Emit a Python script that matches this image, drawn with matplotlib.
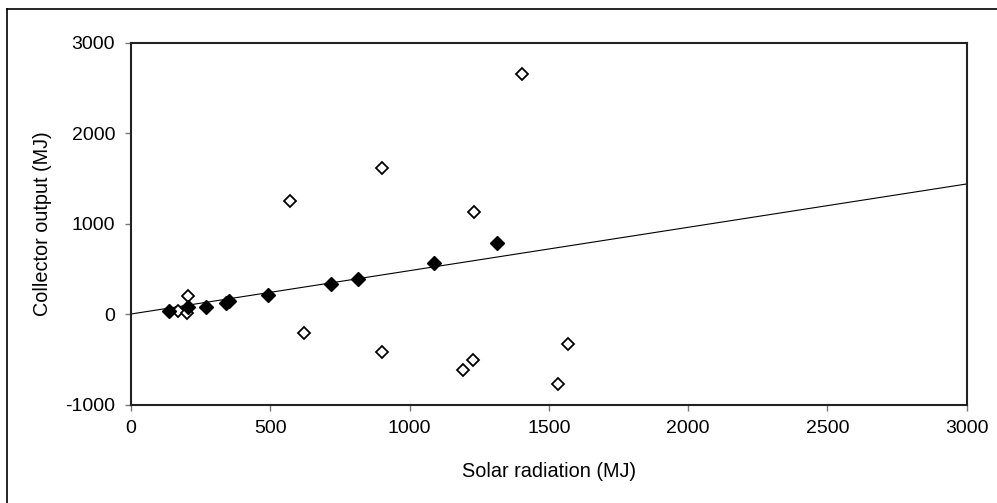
import matplotlib
matplotlib.use('Agg')
import matplotlib.pyplot as plt
from matplotlib.lines import Line2D
import numpy as np

plt.rcParams['font.family'] = ['Liberation Sans', 'DejaVu Sans']
plt.rcParams['axes.unicode_minus'] = False

# filled diamonds (points used for the fit)
fit_radiation = [137, 206, 269, 341, 353, 491, 718, 814, 1089, 1313]
fit_output = [33, 74, 81, 118, 147, 213, 335, 387, 560, 785]

# open diamonds (other points)
other_radiation = [170, 200, 205, 622, 571, 901, 1231, 1404, 902, 1191, 1227, 1534, 1570]
other_output = [33, 14, 196, -213, 1245, 1610, 1122, 2649, -423, -619, -512, -777, -335]

# trendline through origin
trend_slope = 0.479
trend_x = np.array([0, 3000])

fig = plt.figure(figsize=(9.97, 5.03), dpi=100)
ax = fig.add_axes([0.1314, 0.1958, 0.8382, 0.7197])

ax.plot(trend_x, trend_slope * trend_x, color='black', linewidth=0.8, zorder=2)
ax.plot(other_radiation, other_output, linestyle='none', marker='D', markersize=6,
        markerfacecolor='white', markeredgecolor='black', markeredgewidth=1.3, zorder=3)
ax.plot(fit_radiation, fit_output, linestyle='none', marker='D', markersize=6.8,
        markerfacecolor='black', markeredgecolor='black', zorder=4)

ax.set_xlim(0, 3000)
ax.set_ylim(-1000, 3000)
ax.set_xticks(range(0, 3001, 500))
ax.set_yticks(range(-1000, 3001, 1000))

for side in ['left', 'bottom', 'top', 'right']:
    ax.spines[side].set_color('#222222')
    ax.spines[side].set_linewidth(1.5)

ax.tick_params(axis='both', direction='out', length=4.5, width=1, color='#777777',
               labelsize=14, labelcolor='black')
ax.tick_params(axis='x', pad=7)
ax.tick_params(axis='y', pad=7)

ax.set_xlabel('Solar radiation (MJ)', fontsize=14.3)
ax.set_ylabel('Collector output (MJ)', fontsize=14.3)
ax.xaxis.set_label_coords(0.5, -0.158)
ax.yaxis.set_label_coords(-0.094, 0.5)

# outer chart border (only top and left visible)
fig.add_artist(Line2D([0.007, 0.007], [0, 0.9827], transform=fig.transFigure,
                      color='black', linewidth=1.2))
fig.add_artist(Line2D([0.007, 1], [0.9827, 0.9827], transform=fig.transFigure,
                      color='black', linewidth=1.2))

fig.savefig('out.png', dpi=100)
